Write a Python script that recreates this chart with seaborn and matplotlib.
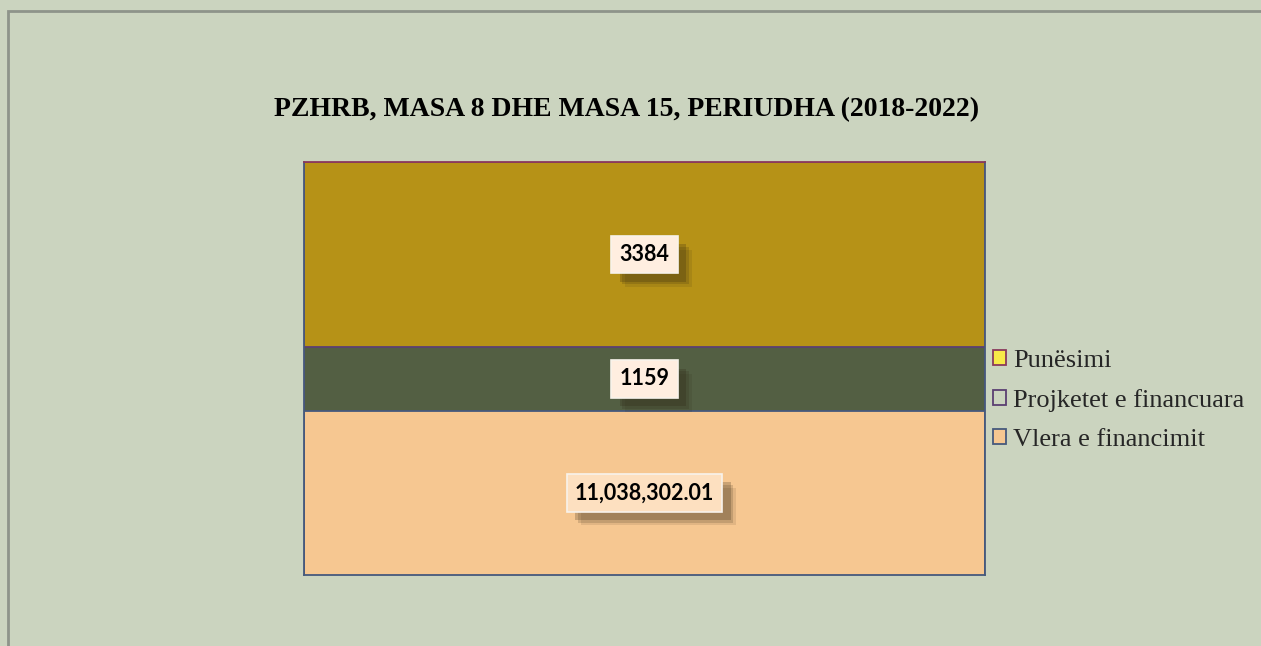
import numpy as np
import matplotlib
matplotlib.use("Agg")
import matplotlib.pyplot as plt
import matplotlib.patheffects as pe
from matplotlib.patches import Patch, Rectangle
import seaborn as sns

sns.set_style("white")

# stacked segments, bottom to top
series = ["Vlera e financimit", "Projketet e financuara", "Punësimi"]
values = [11038302.01, 1159, 3384]
labels = ["11,038,302.01", "1159", "3384"]
# value axis floor used in the original chart
axis_min = 11035300

bg = "#CBD4BF"
fills = ["#F6C791", "#535F43", "#B69217"]
edges = ["#46597C", "#5B3F72", "#8A3A5C"]
box_fills = ["#FDE0C0", "#FFEEE0", "#FFEEE0"]
legend_fills = ["#F6C791", "none", "#F7E948"]

fig = plt.figure(figsize=(12.61, 6.46), dpi=100, facecolor=bg)
ax = fig.add_axes([304 / 1261, 1 - 575 / 646, (985 - 304) / 1261, (575 - 162) / 646])
ax.set_facecolor(bg)

# cumulative tops, drawn largest first so each layer sits over the one above it
tops = np.cumsum(values)
for i in reversed(range(len(values))):
    sns.barplot(x=[0], y=[tops[i]], color=fills[i], width=1.0, ax=ax,
                edgecolor=edges[i], linewidth=1.3, saturation=1)

ax.set_xlim(-0.5, 0.5)
ax.set_ylim(axis_min, tops[-1])
ax.set_xticks([])
ax.set_yticks([])
ax.set_xlabel("")
ax.set_ylabel("")
for side in ["left", "right", "bottom"]:
    ax.spines[side].set_color(edges[0])
    ax.spines[side].set_linewidth(1.3)
ax.spines["top"].set_color(edges[2])
ax.spines["top"].set_linewidth(1.3)

# data labels in the middle of the visible part of each segment
lows = np.concatenate([[axis_min], tops[:-1]])
for i in range(len(values)):
    mid = (max(lows[i], axis_min) + tops[i]) / 2
    t = ax.text(0, mid, labels[i], ha="center", va="center", fontsize=15.5,
                fontweight="bold", family="Lato", color="black",
                bbox=dict(boxstyle="square,pad=0.38", facecolor=box_fills[i],
                          edgecolor="#F8F3EC", linewidth=1.2))
    t.get_bbox_patch().set_path_effects([
        pe.SimplePatchShadow(offset=(10, -10), shadow_rgbFace="#2A2010", alpha=0.10),
        pe.SimplePatchShadow(offset=(8, -8), shadow_rgbFace="#2A2010", alpha=0.16),
        pe.SimplePatchShadow(offset=(6, -6), shadow_rgbFace="#2A2010", alpha=0.22),
        pe.Normal()])

fig.text(627 / 1261, 1 - 110 / 646, "PZHRB, MASA 8 DHE MASA 15, PERIUDHA (2018-2022)",
         ha="center", va="center", fontsize=20, fontweight="bold",
         family="Liberation Serif", color="black")

order = [2, 1, 0]
handles = [Patch(facecolor=legend_fills[i], edgecolor=edges[i], linewidth=1.3) for i in order]
fig.legend(handles, [series[i] for i in order], loc="upper left",
           bbox_to_anchor=(988 / 1261, 1 - 345 / 646), frameon=False,
           prop={"family": "Liberation Serif", "size": 19},
           handlelength=0.5, handleheight=0.5, handletextpad=0.25,
           labelspacing=0.64, borderpad=0.2, borderaxespad=0)

# outer chart frame
fig.patches.append(Rectangle((7.5 / 1261, -0.5), 2, 1.5 - 10.5 / 646,
                             transform=fig.transFigure, fill=False,
                             edgecolor="#8E948A", linewidth=2, clip_on=False))

fig.savefig("out.png", dpi=100, facecolor=bg)
